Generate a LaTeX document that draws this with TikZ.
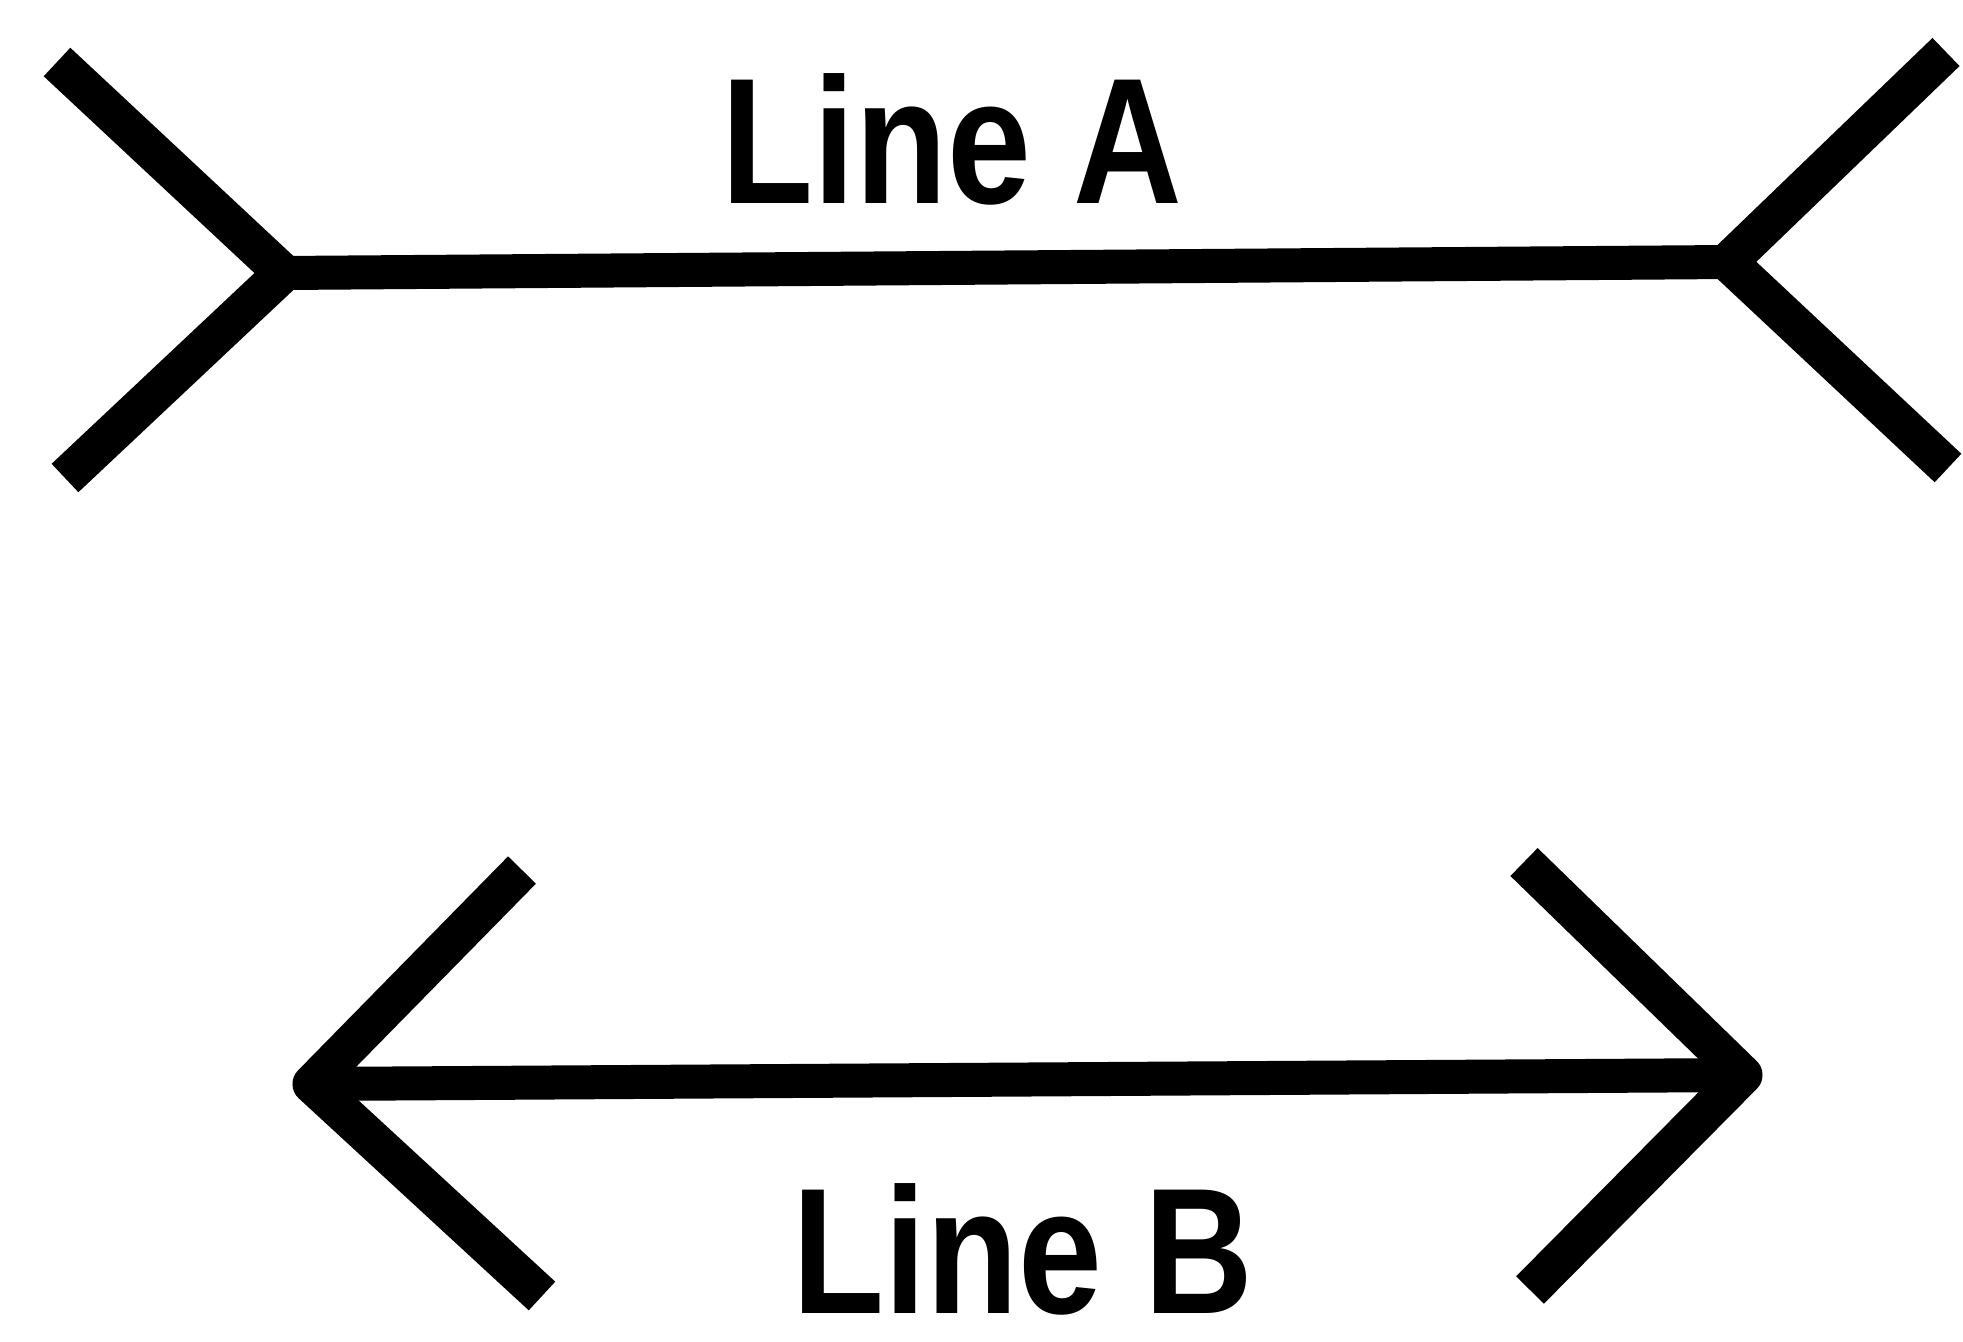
\documentclass[tikz,border=0pt]{standalone}
\usepackage{fontspec}
\setmainfont{Liberation Sans}
\usepackage{tikz}
\tikzset{
  shaft/.style={line width=0.34cm,line cap=butt},
  fin/.style={line width=0.39cm,line cap=butt,line join=round},
  lbl/.style={font=\fontsize{51}{51}\selectfont\bfseries,inner sep=0pt,xscale=0.84,transform shape}
}

\begin{document}
\begin{tikzpicture}[x=0.01cm,y=-0.01cm]
  \useasboundingbox (0,0) rectangle (1963,1342);
  % line A, fins pointing outwards
  \coordinate (aL) at (283,273);
  \coordinate (aR) at (1728,262);
  \coordinate (aLt) at (57,62);
  \coordinate (aLb) at (65,478);
  \coordinate (aRt) at (1946,52);
  \coordinate (aRb) at (1948,468);
  \draw[shaft] (aL) -- (aR);
  \draw[fin] (aLt) -- (aL) -- (aLb);
  \draw[fin] (aRt) -- (aR) -- (aRb);
  \node[lbl] (labA) at (952,139) {Line A};
  % line B, fins pointing inwards
  \coordinate (bL) at (312,1084);
  \coordinate (bR) at (1743,1075);
  \coordinate (bLt) at (522,870);
  \coordinate (bLb) at (542,1296);
  \coordinate (bRt) at (1524,862);
  \coordinate (bRb) at (1530,1290);
  \draw[shaft] (bL) -- (bR);
  \draw[fin] (bLt) -- (bL) -- (bLb);
  \draw[fin] (bRt) -- (bR) -- (bRb);
  \node[lbl] (labB) at (1023,1249) {Line B};
\end{tikzpicture}
\end{document}
